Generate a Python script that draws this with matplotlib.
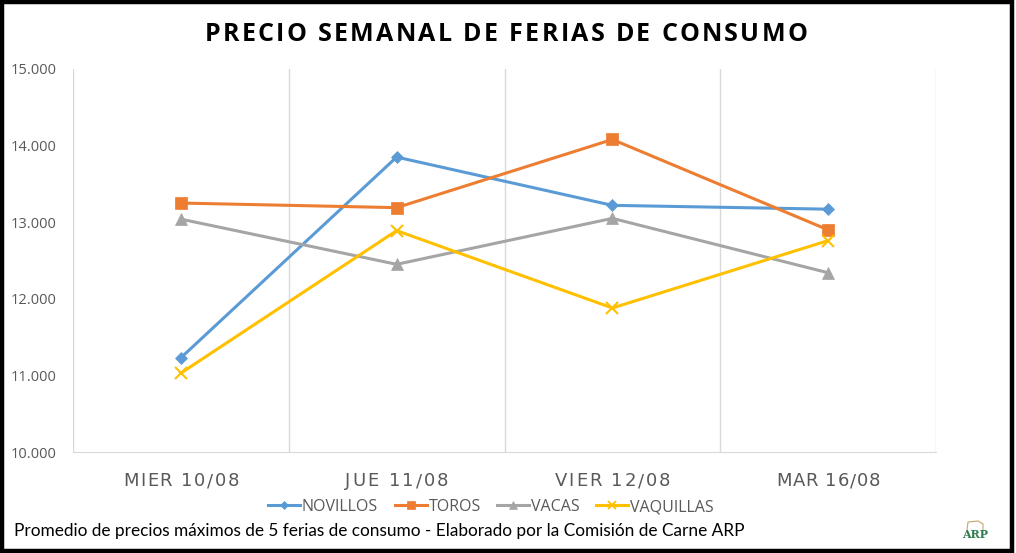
import matplotlib
matplotlib.use("Agg")
import matplotlib.pyplot as plt
from matplotlib.patches import Rectangle
from matplotlib.lines import Line2D
from matplotlib.ticker import FuncFormatter

categories = ["MIER 10/08", "JUE 11/08", "VIER 12/08", "MAR 16/08"]
novillos = [11230, 13850, 13220, 13170]
toros = [13250, 13190, 14080, 12900]
vacas = [13040, 12450, 13050, 12340]
vaquillas = [11030, 12890, 11880, 12760]
y_ticks = [10000, 11000, 12000, 13000, 14000, 15000]

series = [
    ("NOVILLOS", novillos, "#5B9BD5", "D", 6),
    ("TOROS", toros, "#ED7D31", "s", 8),
    ("VACAS", vacas, "#A5A5A5", "^", 8),
    ("VAQUILLAS", vaquillas, "#FFC000", "x", 8),
]

W, H = 1016, 553
fig = plt.figure(figsize=(W / 100, H / 100), dpi=100)
fig.patch.set_facecolor("white")
fig.patches.append(Rectangle((0.002, 0.004), 0.994, 0.992, transform=fig.transFigure,
                             fill=False, edgecolor="black", linewidth=3.2))

ax = fig.add_axes([73 / W, 1 - 452 / H, (936 - 73) / W, (452 - 69) / H])
x = list(range(len(categories)))
handles = []
for name, vals, col, mk, ms in series:
    ax.plot(x, vals, color=col, linewidth=2.2, marker=mk, markersize=ms,
            markeredgewidth=1.5 if mk == "x" else 0.5, label=name, zorder=3)
    handles.append(Line2D([], [], color=col, linewidth=2.2, marker=mk,
                          markersize=ms * 0.75,
                          markeredgewidth=1.3 if mk == "x" else 0.5))

ax.set_xlim(-0.5, len(categories) - 0.5)
ax.set_ylim(10000, 15000)
ax.set_yticks(y_ticks)
ax.yaxis.set_major_formatter(FuncFormatter(lambda v, p: f"{int(v):,}".replace(",", ".")))
ax.set_xticks(x)
ax.set_xticklabels([""] * len(categories))
ax.set_xticks([i + 0.5 for i in range(-1, len(categories))], minor=True)
ax.grid(True, which="minor", axis="x", color="#D9D9D9", linewidth=1)
ax.grid(False, which="major")
for s in ["top", "right", "left"]:
    ax.spines[s].set_visible(False)
ax.spines["bottom"].set_color("#D9D9D9")
ax.tick_params(axis="both", which="both", length=0)
ax.tick_params(axis="y", labelsize=10.5, labelcolor="#595959", pad=12)
for lbl in ax.get_yticklabels():
    lbl.set_fontfamily("Open Sans")


def spaced_text(s, x_center_px, baseline_px, total_width_px, **kw):
    renderer = fig.canvas.get_renderer()

    def width(txt):
        t = fig.text(0, 0, txt, **kw)
        w = t.get_window_extent(renderer).width
        t.remove()
        return w

    ref = width("|")
    prefix = [width(s[:i] + "|") - ref for i in range(len(s) + 1)]
    natural = prefix[-1]
    spacing = (total_width_px - natural) / (len(s) - 1)
    x0 = x_center_px - total_width_px / 2
    for i, ch in enumerate(s):
        if ch == " ":
            continue
        fig.text((x0 + prefix[i] + i * spacing) / W, 1 - baseline_px / H, ch,
                 ha="left", va="baseline", **kw)


spaced_text("PRECIO SEMANAL DE FERIAS DE CONSUMO", 506, 41, 603,
            fontsize=18, fontweight="bold", family="Open Sans", color="black")

# category labels, centred on the data positions of the x axis
for i, cat in enumerate(categories):
    cx = ax.transData.transform((i, 10000))[0]
    spaced_text(cat, cx, 486, 116 if len(cat) == 10 else 104,
                fontsize=13, family="DejaVu Sans", color="#595959")

leg = fig.legend(handles, [s[0] for s in series], loc="center",
                 bbox_to_anchor=(491 / W, 1 - 507 / H), ncol=4, frameon=False,
                 handlelength=2.0, columnspacing=1.05, handletextpad=0.1,
                 prop={"family": "Open Sans", "size": 11.5})
for t in leg.get_texts():
    t.set_color("#595959")

fig.text(14 / W, 1 - 531 / H,
         "Promedio de precios máximos de 5 ferias de consumo - Elaborado por la Comisión de Carne ARP",
         ha="left", va="center", fontsize=12.4, family="Lato", color="black")

# small ARP logo
fig.lines.append(Line2D([967 / W, 968 / W, 978 / W, 983 / W, 983 / W],
                        [1 - 530 / H, 1 - 522 / H, 1 - 521 / H, 1 - 524 / H, 1 - 530 / H],
                        transform=fig.transFigure, color="#C9A46A", linewidth=0.8))
fig.text(975 / W, 1 - 535 / H, "ARP", ha="center", va="center", fontsize=8,
         fontweight="bold", family="DejaVu Serif", color="#2E7D4F")

fig.savefig("out.png", dpi=100)
